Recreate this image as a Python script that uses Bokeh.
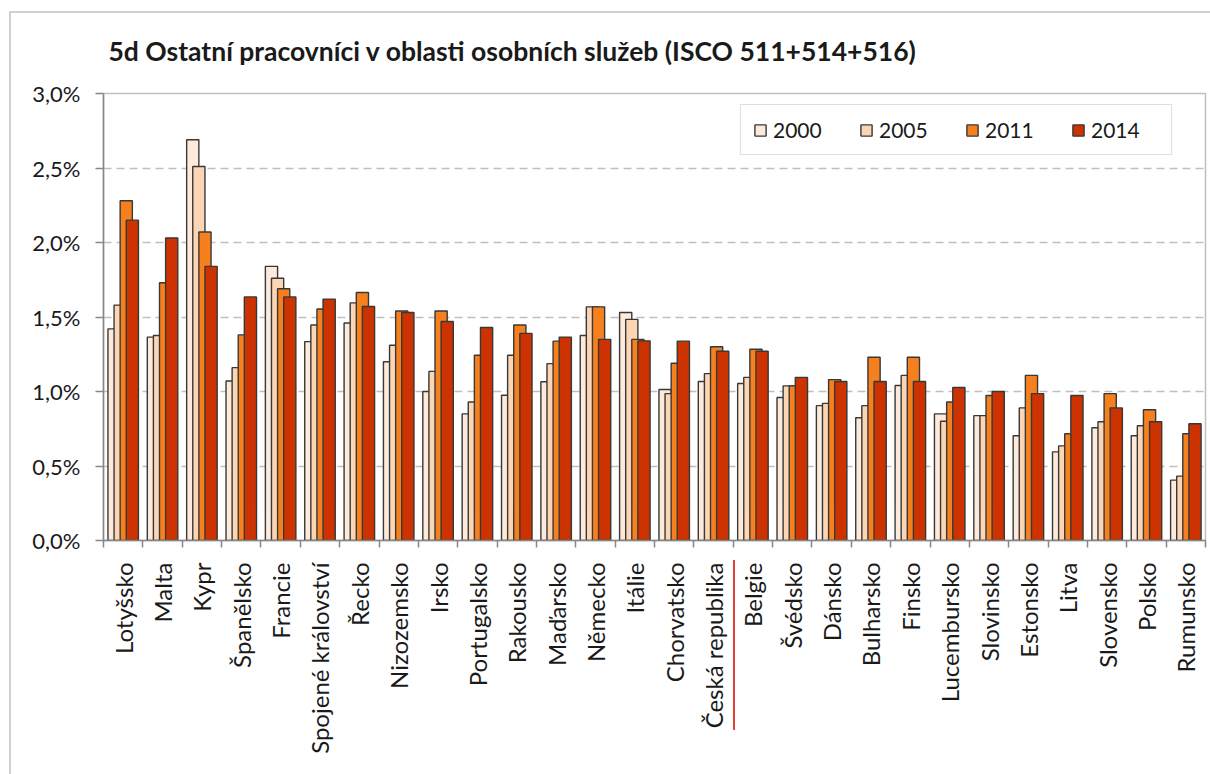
import numpy as np
from bokeh.plotting import figure
from bokeh.models import (ColumnDataSource, Range1d, FixedTicker, CustomJSTickFormatter,
                          Legend, LegendItem)
from bokeh.transform import dodge
from bokeh.embed import file_html
from bokeh.resources import INLINE

title = "5d Ostatní pracovníci v oblasti osobních služeb (ISCO 511+514+516)"
countries = ["Lotyšsko", "Malta", "Kypr", "Španělsko", "Francie", "Spojené království", "Řecko",
             "Nizozemsko", "Irsko", "Portugalsko", "Rakousko", "Maďarsko", "Německo", "Itálie",
             "Chorvatsko", "Česká republika", "Belgie", "Švédsko", "Dánsko", "Bulharsko", "Finsko",
             "Lucembursko", "Slovinsko", "Estonsko", "Litva", "Slovensko", "Polsko", "Rumunsko"]
years = ["2000", "2005", "2011", "2014"]
v2000 = [1.42, 1.365, 2.69, 1.07, 1.84, 1.335, 1.46, 1.20, 1.00, 0.85, 0.975, 1.065, 1.376, 1.53,
         1.013, 1.067, 1.054, 0.96, 0.905, 0.824, 1.04, 0.85, 0.838, 0.703, 0.595, 0.757, 0.703, 0.405]
v2005 = [1.58, 1.376, 2.51, 1.16, 1.76, 1.446, 1.595, 1.31, 1.135, 0.93, 1.243, 1.187, 1.568, 1.484,
         0.986, 1.12, 1.095, 1.038, 0.92, 0.905, 1.108, 0.80, 0.838, 0.89, 0.635, 0.797, 0.77, 0.432]
v2011 = [2.28, 1.73, 2.07, 1.38, 1.69, 1.554, 1.664, 1.54, 1.54, 1.243, 1.446, 1.338, 1.568, 1.35,
         1.19, 1.30, 1.284, 1.038, 1.08, 1.23, 1.23, 0.93, 0.973, 1.108, 0.716, 0.986, 0.878, 0.716]
v2014 = [2.15, 2.03, 1.84, 1.635, 1.635, 1.62, 1.57, 1.53, 1.47, 1.43, 1.39, 1.365, 1.35, 1.34,
         1.338, 1.27, 1.27, 1.095, 1.067, 1.067, 1.067, 1.027, 1.00, 0.986, 0.973, 0.89, 0.797, 0.784]
y_ticks = [0.0, 0.5, 1.0, 1.5, 2.0, 2.5, 3.0]

colors = ["#fdeadb", "#fcd5b4", "#f6801e", "#cc3300"]
offsets = [-0.232, -0.077, 0.078, 0.233]

n = len(countries)
centers = np.arange(n) + 0.5
src = ColumnDataSource(dict(x=centers, y2000=v2000, y2005=v2005, y2011=v2011, y2014=v2014))

p = figure(width=1210, height=774, output_backend="svg", toolbar_location=None,
           x_range=Range1d(0, n), y_range=Range1d(0, 3.0),
           min_border_left=103, min_border_right=5, min_border_top=93, min_border_bottom=234)
p.background_fill_color = "white"
p.border_fill_color = None
p.outline_line_color = "#bfbfbf"
p.outline_line_width = 1.5

# chart border (left/top) and the red separator under the axis, drawn behind the canvas
gray = "linear-gradient(#d0d0d0, #d0d0d0)"
red = "linear-gradient(#e0413a, #e0413a)"
p.styles = {
    "background-color": "white",
    "background-image": f"{gray}, {gray}, {red}",
    "background-size": "2px 100%, 100% 2px, 2px 170px",
    "background-position": "9px 11px, 9px 11px, 733px 560px",
    "background-repeat": "no-repeat",
}

p.title.text = title
p.title.text_font = "Lato"
p.title.text_font_style = "bold"
p.title.text_font_size = "26.5px"
p.title.text_color = "#1a1a1a"
p.title.offset = 5
p.title.standoff = 53

renderers = []
for yr, col, off in zip(years, colors, offsets):
    r = p.vbar(x=dodge("x", off), top="y" + yr, width=0.31, source=src,
               fill_color=col, line_color="#383838", line_width=1.4)
    renderers.append(r)

legend = Legend(items=[LegendItem(label=yr, renderers=[r]) for yr, r in zip(years, renderers)],
                orientation="horizontal", location=(637, 385))
legend.label_text_font = "Lato"
legend.label_text_font_size = "21px"
legend.label_text_color = "#1a1a1a"
legend.glyph_width = 14
legend.glyph_height = 14
legend.label_standoff = 6
legend.label_width = 68
legend.spacing = 18
legend.padding = 12
legend.border_line_color = "#bfbfbf"
legend.border_line_width = 1.5
legend.background_fill_color = "white"
legend.background_fill_alpha = 1
p.add_layout(legend, "center")

# grid
p.xgrid.visible = False
p.ygrid.ticker = FixedTicker(ticks=y_ticks[1:-1])
p.ygrid.grid_line_color = "#bfbfbf"
p.ygrid.grid_line_dash = "8 5"
p.ygrid.grid_line_width = 1.5

ya = p.yaxis[0]
ya.ticker = FixedTicker(ticks=y_ticks)
ya.formatter = CustomJSTickFormatter(code="return tick.toFixed(1).replace('.', ',') + '%';")
ya.axis_line_color = "#868686"
ya.axis_line_width = 1.5
ya.major_tick_line_color = "#868686"
ya.major_tick_line_width = 1.5
ya.major_tick_out = 8
ya.major_tick_in = 0
ya.minor_tick_out = 0
ya.minor_tick_in = 0
ya.major_label_standoff = 15
ya.major_label_text_font = "Lato"
ya.major_label_text_font_size = "22px"
ya.major_label_text_color = "#1a1a1a"

xa = p.xaxis[0]
xa.ticker = FixedTicker(ticks=list(centers), minor_ticks=list(range(n + 1)))
xa.major_label_overrides = {float(c): name for c, name in zip(centers, countries)}
xa.axis_line_color = "#868686"
xa.axis_line_width = 1.5
xa.major_tick_out = 0
xa.major_tick_in = 0
xa.minor_tick_out = 7
xa.minor_tick_in = 0
xa.minor_tick_line_color = "#868686"
xa.minor_tick_line_width = 1.5
xa.major_label_orientation = np.pi / 2
xa.major_label_standoff = 15
xa.major_label_text_font = "Lato"
xa.major_label_text_font_size = "24px"
xa.major_label_text_color = "#1a1a1a"

open("out.html", "w").write(file_html(p, INLINE))
